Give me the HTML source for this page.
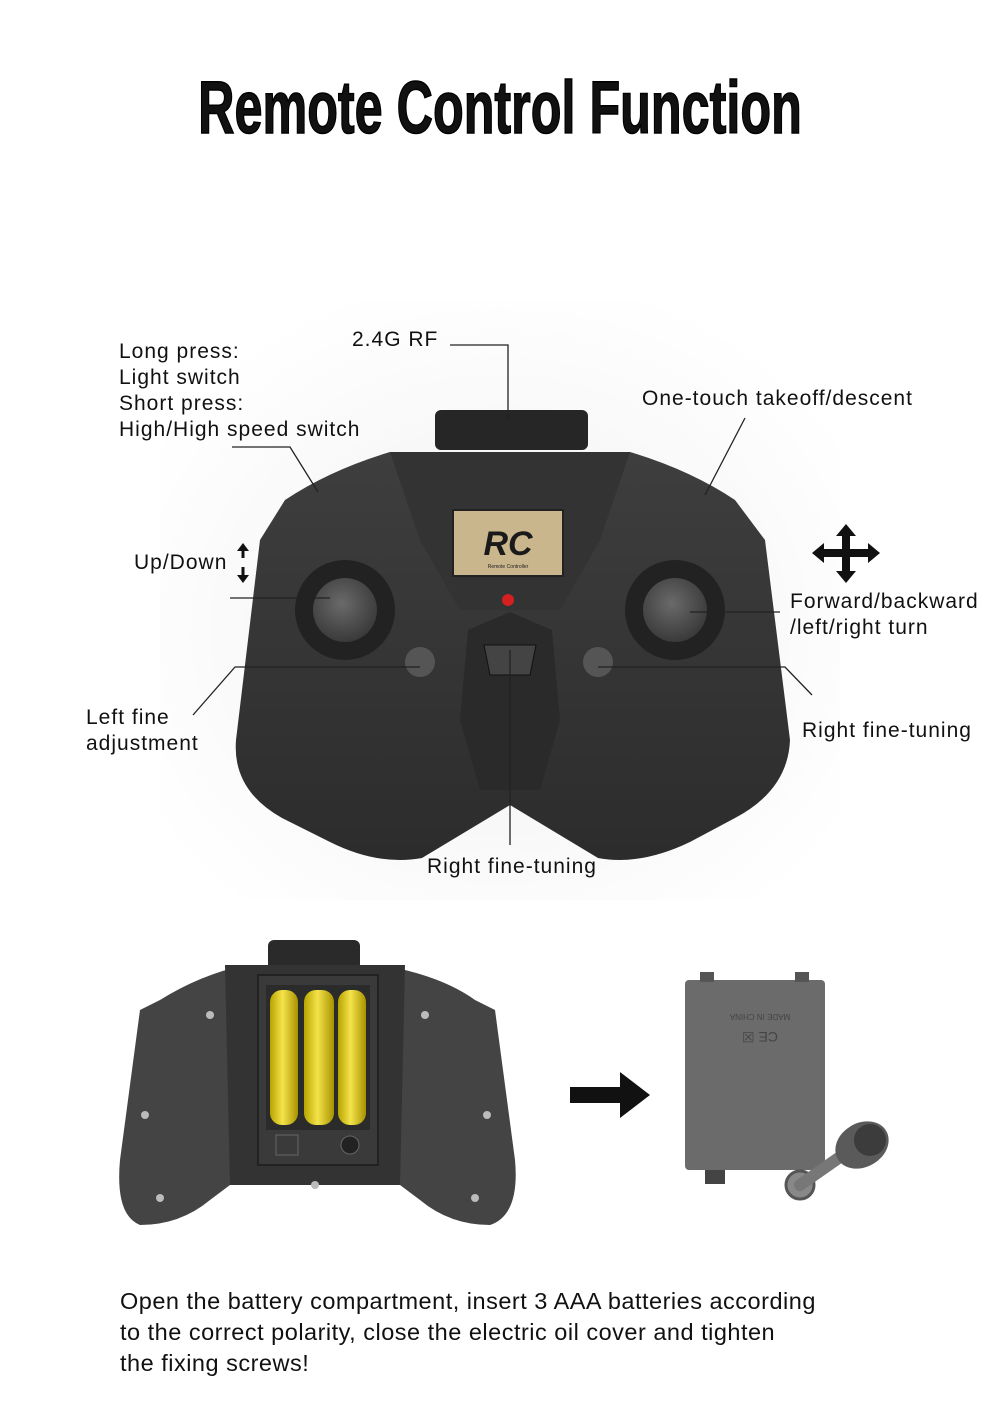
<!DOCTYPE html>
<html><head><meta charset="utf-8"><style>
html,body{margin:0;padding:0;background:#fff;width:1000px;height:1403px;overflow:hidden}
svg{display:block}
text{font-family:"Liberation Sans",sans-serif;fill:#111}
.l{font-size:21px;letter-spacing:1px}
.b{font-size:23.5px;letter-spacing:0.5px}
</style></head><body>
<svg width="1000" height="1403" viewBox="0 0 1000 1403" xmlns="http://www.w3.org/2000/svg">
<defs>
<radialGradient id="bg" cx="0.5" cy="0.55" r="0.6"><stop offset="0" stop-color="#f0f0f0"/><stop offset="1" stop-color="#ffffff"/></radialGradient>
<linearGradient id="body" x1="0" y1="0" x2="0" y2="1"><stop offset="0" stop-color="#3e3e3e"/><stop offset="1" stop-color="#2c2c2c"/></linearGradient>
<radialGradient id="joy" cx="0.45" cy="0.4" r="0.6"><stop offset="0" stop-color="#6a6a6a"/><stop offset="1" stop-color="#3a3a3a"/></radialGradient>
<linearGradient id="bat" x1="0" y1="0" x2="1" y2="0"><stop offset="0" stop-color="#b8a400"/><stop offset="0.45" stop-color="#f4e34a"/><stop offset="1" stop-color="#a89300"/></linearGradient>
</defs>
<rect x="160" y="300" width="680" height="600" fill="url(#bg)"/>
<text x="500" y="133" text-anchor="middle" style="font-weight:bold;font-size:74px;stroke:#000;stroke-width:1.5" transform="translate(500 0) scale(0.68 1) translate(-500 0)">Remote Control Function</text>

<!-- top controller -->
<rect x="435" y="410" width="153" height="40" rx="6" fill="#262626"/>
<path d="M285 500 Q330 470 390 452 L630 452 Q690 470 735 500 L765 540 L790 740 Q788 790 735 818 L690 842 Q640 866 598 858 L510 805 L422 858 Q378 866 330 842 L282 818 Q232 790 236 740 L260 540 Z" fill="url(#body)"/>
<path d="M390 452 L630 452 L600 540 L560 610 L460 610 L420 540 Z" fill="#333"/>
<rect x="453" y="510" width="110" height="66" fill="#c9b68c" stroke="#222" stroke-width="2"/>
<text x="508" y="555" text-anchor="middle" style="font-size:34px;font-weight:bold;font-style:italic;fill:#1a1a1a">RC</text>
<text x="508" y="568" text-anchor="middle" style="font-size:5px;fill:#222">Remote Controller</text>
<circle cx="508" cy="600" r="6" fill="#d42020"/>
<circle cx="345" cy="610" r="50" fill="#222"/>
<circle cx="345" cy="610" r="32" fill="url(#joy)"/>
<circle cx="675" cy="610" r="50" fill="#222"/>
<circle cx="675" cy="610" r="32" fill="url(#joy)"/>
<circle cx="420" cy="662" r="15" fill="#555"/>
<circle cx="598" cy="662" r="15" fill="#555"/>
<path d="M468 630 L510 612 L552 630 L560 720 L540 790 L480 790 L460 720 Z" fill="#2a2a2a"/>
<path d="M484 645 L536 645 L530 675 L490 675 Z" fill="#444" stroke="#111"/>

<!-- lines -->
<g stroke="#222" stroke-width="1.3" fill="none">
<polyline points="450,345 508,345 508,420"/>
<polyline points="745,418 705,495"/>
<polyline points="232,447 290,447 318,492"/>
<polyline points="230,598 330,598"/>
<polyline points="690,612 780,612"/>
<polyline points="193,715 235,667 420,667"/>
<polyline points="598,667 785,667 812,695"/>
<polyline points="510,650 510,845"/>
</g>
<g fill="#111">
<path d="M243 543 L237 551 L249 551 Z"/><rect x="241.5" y="550" width="3" height="8"/>
<path d="M243 583 L237 575 L249 575 Z"/><rect x="241.5" y="567" width="3" height="9"/>
<path d="M846 524 L836 536 L856 536 Z M846 583 L836 571 L856 571 Z M812 553 L824 543 L824 563 Z M880 553 L868 543 L868 563 Z"/>
<rect x="842" y="535" width="8" height="37"/><rect x="823" y="549" width="46" height="8"/>
</g>

<text class="l" x="352" y="346">2.4G RF</text>
<text class="l" x="642" y="405">One-touch takeoff/descent</text>
<text class="l" x="119" y="358">Long press:</text>
<text class="l" x="119" y="384">Light switch</text>
<text class="l" x="119" y="410">Short press:</text>
<text class="l" x="119" y="436">High/High speed switch</text>
<text class="l" x="134" y="569">Up/Down</text>
<text class="l" x="790" y="608">Forward/backward</text>
<text class="l" x="790" y="634">/left/right turn</text>
<text class="l" x="86" y="724">Left fine</text>
<text class="l" x="86" y="750">adjustment</text>
<text class="l" x="802" y="737">Right fine-tuning</text>
<text class="l" x="427" y="873">Right fine-tuning</text>

<!-- bottom back controller -->
<rect x="268" y="940" width="92" height="30" rx="6" fill="#2a2a2a"/>
<path d="M160 1000 Q200 975 245 965 L380 965 Q440 975 475 1000 L495 1010 L515 1160 Q520 1215 490 1225 Q450 1225 420 1200 L380 1170 L250 1170 L210 1200 Q180 1225 140 1225 Q115 1215 120 1160 L140 1010 Z" fill="#444"/>
<path d="M225 965 L405 965 L400 1185 L230 1185 Z" fill="#333"/>
<rect x="258" y="975" width="120" height="190" fill="#3a3a3a" stroke="#222" stroke-width="2"/>
<rect x="266" y="985" width="104" height="145" fill="#2b2b2b"/>
<rect x="270" y="990" width="28" height="135" rx="12" fill="url(#bat)"/>
<rect x="304" y="990" width="30" height="135" rx="12" fill="url(#bat)"/>
<rect x="338" y="990" width="28" height="135" rx="12" fill="url(#bat)"/>
<circle cx="350" cy="1145" r="9" fill="#222" stroke="#666"/>
<rect x="276" y="1135" width="22" height="20" fill="none" stroke="#666"/>
<g fill="#bbb"><circle cx="210" cy="1015" r="4"/><circle cx="425" cy="1015" r="4"/><circle cx="145" cy="1115" r="4"/><circle cx="487" cy="1115" r="4"/><circle cx="160" cy="1198" r="4"/><circle cx="475" cy="1198" r="4"/><circle cx="315" cy="1185" r="4"/></g>
<!-- arrow -->
<path d="M570 1087 L620 1087 L620 1072 L650 1095 L620 1118 L620 1103 L570 1103 Z" fill="#111"/>
<!-- cover -->
<rect x="685" y="980" width="140" height="190" rx="4" fill="#6b6b6b"/>
<rect x="700" y="972" width="14" height="10" fill="#555"/><rect x="795" y="972" width="14" height="10" fill="#555"/>
<rect x="705" y="1170" width="20" height="14" fill="#444"/>
<text x="760" y="1020" text-anchor="middle" style="font-size:8px;fill:#444" transform="rotate(180 760 1017)">MADE IN CHINA</text>
<text x="760" y="1042" text-anchor="middle" style="font-size:14px;fill:#444" transform="rotate(180 760 1037)">CE ☒</text>
<circle cx="800" cy="1185" r="14" fill="#888" stroke="#555" stroke-width="3"/>
<path d="M800 1185 L850 1150" stroke="#777" stroke-width="12" stroke-linecap="round"/>
<ellipse cx="862" cy="1145" rx="28" ry="22" fill="#5a5a5a" transform="rotate(-30 862 1145)"/>
<circle cx="870" cy="1140" r="16" fill="#3c3c3c"/>

<text class="b" x="120" y="1309">Open the battery compartment, insert 3 AAA batteries according</text>
<text class="b" x="120" y="1340">to the correct polarity, close the electric oil cover and tighten</text>
<text class="b" x="120" y="1371">the fixing screws!</text>
</svg>
</body></html>
